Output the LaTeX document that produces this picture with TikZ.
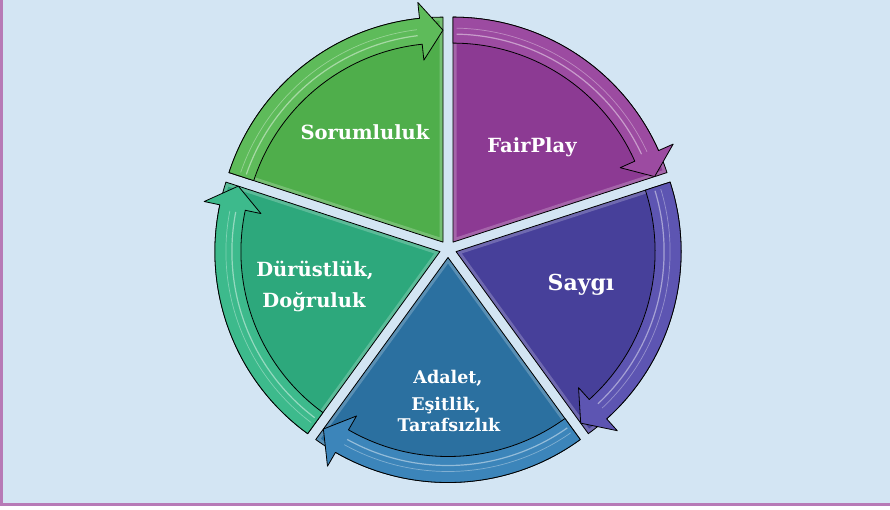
\documentclass[tikz,border=0pt]{standalone}
\usepackage{fontspec}
\newfontfamily\labelfont{DejaVu Serif}
\usetikzlibrary{calc}
\definecolor{bgC}{HTML}{D3E5F3}
\definecolor{frameC}{HTML}{B77AB6}
\definecolor{fpC}{HTML}{8C3A93}
\definecolor{fpB}{HTML}{9C4BA1}
\definecolor{sgC}{HTML}{47409A}
\definecolor{sgB}{HTML}{5D55B2}
\definecolor{adC}{HTML}{2B70A0}
\definecolor{adB}{HTML}{3C85BA}
\definecolor{duC}{HTML}{2DA87C}
\definecolor{duB}{HTML}{3DBA8C}
\definecolor{soC}{HTML}{4FAE4B}
\definecolor{soB}{HTML}{5EBB5A}
\tikzset{
  bodyshape/.style={draw=black, line width=0.8pt, line join=round},
  bandshape/.style={draw=black, line width=0.8pt, line join=round},
  gloss/.style={draw=white, line width=1.2pt, opacity=0.45},
  lbl/.style={text=white, font=\labelfont\bfseries\fontsize{19.5}{23}\selectfont, inner sep=0pt, anchor=center},
  lblsmall/.style={lbl, font=\labelfont\bfseries\fontsize{17.5}{21}\selectfont},
  lblbig/.style={lbl, font=\labelfont\bfseries\fontsize{22}{26}\selectfont}
}
\begin{document}
\begin{tikzpicture}[x=1pt,y=1pt]
\useasboundingbox (0,0) rectangle (890,509);
\fill[bgC] (0,0) rectangle (890,509);
\fill[white] (0,0) rectangle (890,3.5);
\draw[frameC, line width=3pt] (1.5,509) -- (1.5,5) -- (890,5);
\coordinate (ctr) at (448,260);
\foreach \s/\col/\bcol/\m in {90/fpC/fpB/54, 18/sgC/sgB/-18, -54/adC/adB/-90, -126/duC/duB/-162, 162/soC/soB/126}{
  \pgfmathsetmacro{\e}{\s-72}
  \pgfmathsetmacro{\h}{\s-66}
  \begin{scope}[shift={($(ctr)+(\m:8.5)$)}]
    \path[fill=\col] (0,0) -- (\s:225) arc[start angle=\s, end angle=\e, radius=225pt] -- cycle;
    \begin{scope}
      \clip (0,0) -- (\s:225) arc[start angle=\s, end angle=\e, radius=225pt] -- cycle;
      \draw[white, opacity=0.22, line width=7pt, line join=round] (0,0) -- (\s:225) arc[start angle=\s, end angle=\e, radius=225pt] -- cycle;
    \end{scope}
    \path[bodyshape] (0,0) -- (\s:225) arc[start angle=\s, end angle=\e, radius=225pt] -- cycle;
    \path[bandshape, fill=\bcol] (\s:199) arc[start angle=\s, end angle=\h, radius=199pt]
      -- (\h:183) -- (\e:212) -- (\h:241) -- (\h:225)
      arc[start angle=\h, end angle=\s, radius=225pt] -- cycle;
    \draw[gloss] (\s-1:208) arc[start angle=\s-1, end angle=\h+1, radius=208pt];
    \draw[gloss, line width=0.7pt, opacity=0.35] (\s-1:214) arc[start angle=\s-1, end angle=\h+1, radius=214pt];
  \end{scope}
}
\node[lbl] (soL) at (365,377) {Sorumluluk};
\node[lbl] (fpL) at (532,362) {FairPlay};
\node[lblbig] (sgL) at (581,224) {Saygı};
\node[lblsmall] (ad1) at (448,131) {Adalet,};
\node[lblsmall] (ad2) at (446,103) {Eşitlik,};
\node[lblsmall] (ad3) at (449,84) {Tarafsızlık};
\node[lbl] (du1) at (315,239) {Dürüstlük,};
\node[lbl] (du2) at (314,207) {Doğruluk};
\end{tikzpicture}
\end{document}
